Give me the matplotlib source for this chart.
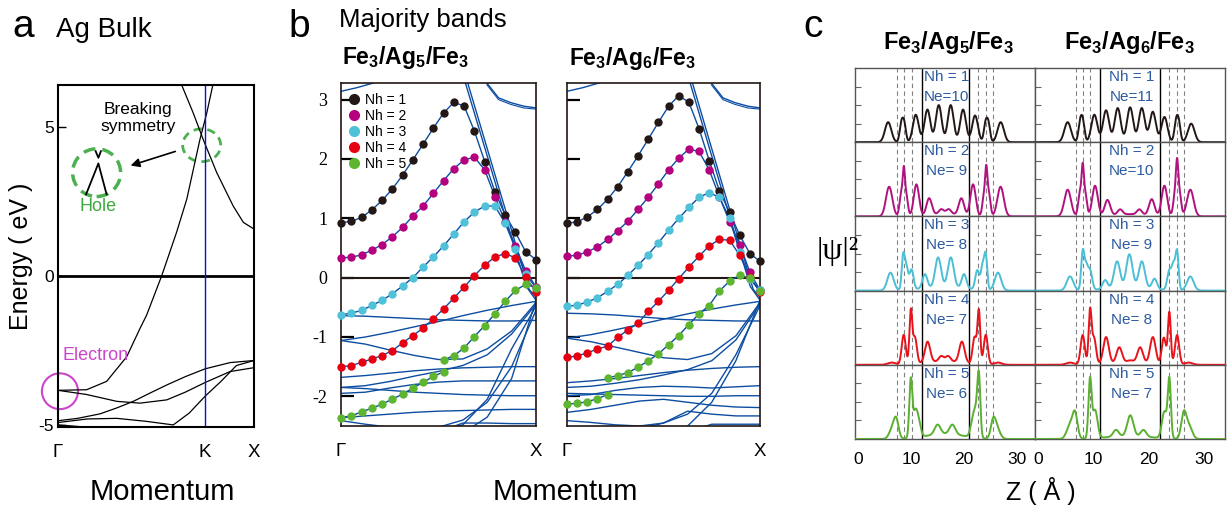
import numpy as np
import matplotlib.pyplot as plt
from matplotlib.patches import Ellipse
from matplotlib.lines import Line2D

plt.rcParams['font.family'] = ['Liberation Sans', 'DejaVu Sans']
plt.rcParams['axes.unicode_minus'] = False

# ---------------- data: panel a (Ag bulk) ----------------
a_labels = ['Γ', 'K', 'X']
a_label_pos = [0.0, 0.75, 1.0]
sp_up_k = [0, 0.146, 0.248, 0.35, 0.418, 0.452, 0.529, 0.605, 0.657, 0.724, 0.759, 0.79]
sp_up_e = [-3.84, -3.82, -3.54, -2.72, -1.77, -1.32, 0.0, 1.46, 2.57, 4.57, 5.46, 6.4]
sp_dn_k = [0.631, 0.69, 0.741, 0.81, 0.894, 0.946, 1.0]
sp_dn_e = [6.4, 5.46, 4.57, 3.46, 2.34, 1.79, 1.57]
d1_k = [0, 0.146, 0.30, 0.418, 0.555, 0.65, 0.75, 0.878, 1.0]
d1_e = [-3.84, -3.98, -4.21, -4.27, -4.16, -3.9, -3.58, -3.21, -3.08]
d2_k = [0, 0.1, 0.214, 0.3, 0.384, 0.47, 0.555, 0.65, 0.75, 0.878, 1.0]
d2_e = [-4.86, -4.78, -4.63, -4.43, -4.21, -3.93, -3.66, -3.38, -3.12, -2.91, -2.84]
d3_k = [0, 0.15, 0.3, 0.45, 0.588, 0.67, 0.75, 0.83, 0.91, 1.0]
d3_e = [-4.92, -4.8, -4.78, -4.88, -5.0, -4.6, -4.04, -3.55, -3.01, -2.84]
d4_k = [0, 0.1, 0.2]
d4_e = [-5.0, -5.05, -5.12]

# ---------------- data: panel b (majority bands) ----------------
nh_labels = ['Nh = 1', 'Nh = 2', 'Nh = 3', 'Nh = 4', 'Nh = 5']
idx20 = list(range(20))
ag5_black = [0.925, 0.948, 1.015, 1.14, 1.30, 1.495, 1.726, 1.985, 2.25, 2.52,
             2.775, 2.955, 2.89, 2.47, 1.957, 1.444, 1.055, 0.761, 0.434, 0.305]
ag5_mag = [0.333, 0.344, 0.384, 0.462, 0.558, 0.688, 0.846, 1.038, 1.207, 1.421,
           1.636, 1.839, 1.985, 2.03, 1.816, 1.365, 0.942, 0.53, 0.113, -0.158]
ag5_cyan = [-0.626, -0.598, -0.553, -0.468, -0.384, -0.271, -0.141, 0.0, 0.18, 0.35,
            0.536, 0.738, 0.942, 1.105, 1.207, 1.207, 0.914, 0.49, 0.056, -0.169]
ag5_red = [-1.50, -1.483, -1.427, -1.371, -1.314, -1.23, -1.10, -0.976, -0.852, -0.694,
           -0.525, -0.344, -0.158, 0.034, 0.209, 0.35, 0.406, 0.333, 0.011, -0.243]
ag5_green_idx = [0, 1, 2, 3, 4, 5, 6, 7, 8, 9, 10, 10, 11, 12, 13, 14, 15, 16, 17, 18, 19]
ag5_green = [-2.358, -2.33, -2.262, -2.2, -2.132, -2.047, -1.963, -1.861, -1.765, -1.664, -1.585,
             -1.387, -1.314, -1.184, -0.993, -0.807, -0.609, -0.40, -0.214, -0.113, -0.169]

ag6_black = [0.914, 0.942, 1.021, 1.151, 1.32, 1.534, 1.788, 2.053, 2.335, 2.617,
             2.888, 3.068, 2.955, 2.51, 1.974, 1.466, 1.10, 0.716, 0.406, 0.276]
ag6_mag = [0.361, 0.378, 0.434, 0.519, 0.643, 0.79, 0.953, 1.151, 1.354, 1.579,
           1.816, 2.014, 2.166, 2.126, 1.816, 1.365, 0.942, 0.558, 0.096, -0.214]
ag6_cyan = [-0.485, -0.462, -0.412, -0.338, -0.231, -0.113, 0.039, 0.209, 0.389, 0.587,
            0.80, 0.998, 1.184, 1.354, 1.433, 1.354, 1.0, 0.434, -0.017, -0.214]
ag6_red = [-1.342, -1.32, -1.269, -1.201, -1.156, -1.004, -0.88, -0.767, -0.57, -0.40,
           -0.214, -0.017, 0.18, 0.361, 0.536, 0.643, 0.632, 0.378, 0.011, -0.243]
ag6_green_idx = [0, 1, 2, 3, 4, 4, 5, 6, 7, 8, 9, 10, 11, 12, 13, 14, 15, 16, 17, 18, 19]
ag6_green = [-2.13, -2.12, -2.09, -2.04, -1.97, -1.69, -1.65, -1.60, -1.51, -1.40, -1.285,
             -1.13, -0.975, -0.79, -0.61, -0.47, -0.226, -0.06, 0.04, -0.01, -0.226]

# background bands on a coarse k grid
k9 = [0, 0.125, 0.25, 0.375, 0.5, 0.625, 0.75, 0.875, 1.0]
bands_ag5 = [
    [-0.64, -0.65, -0.67, -0.69, -0.71, -0.72, -0.73, -0.73, -0.72],
    [-1.06, -1.00, -0.92, -0.83, -0.74, -0.64, -0.55, -0.47, -0.40],
    [-1.06, -1.12, -1.22, -1.31, -1.38, -1.37, -1.20, -0.90, -0.42],
    [-1.68, -1.65, -1.61, -1.57, -1.54, -1.52, -1.51, -1.50, -1.50],
    [-1.85, -1.82, -1.75, -1.66, -1.58, -1.48, -1.30, -0.95, -0.45],
    [-1.85, -1.87, -1.90, -1.93, -1.95, -1.97, -1.98, -1.99, -1.99],
    [-1.95, -1.93, -1.86, -1.80, -1.76, -1.74, -1.74, -1.74, -1.74],
    [-2.36, -2.33, -2.30, -2.27, -2.25, -2.24, -2.23, -2.22, -2.22],
    [-2.41, -2.47, -2.52, -2.55, -2.52, -2.40, -2.10, -1.50, -0.55],
    [-2.60, -2.60, -2.60, -2.60, -2.58, -2.48, -2.05, -1.20, -0.48],
    [-2.65, -2.65, -2.65, -2.65, -2.65, -2.62, -2.35, -1.70, -0.38],
    [-2.65, -2.65, -2.65, -2.65, -2.60, -2.45, -2.45, -2.46, -2.46],
]
bands_ag6 = [
    [-0.60, -0.61, -0.63, -0.66, -0.69, -0.71, -0.72, -0.73, -0.73],
    [-1.02, -0.96, -0.88, -0.79, -0.70, -0.61, -0.53, -0.46, -0.40],
    [-1.02, -1.08, -1.17, -1.26, -1.35, -1.38, -1.28, -0.98, -0.42],
    [-1.77, -1.74, -1.70, -1.65, -1.60, -1.56, -1.53, -1.51, -1.50],
    [-1.85, -1.83, -1.78, -1.72, -1.64, -1.55, -1.40, -1.05, -0.44],
    [-1.99, -1.97, -1.90, -1.85, -1.83, -1.84, -1.86, -1.84, -1.82],
    [-1.95, -1.96, -1.97, -1.98, -1.99, -2.00, -2.00, -1.99, -1.99],
    [-2.27, -2.22, -2.15, -2.08, -2.05, -2.10, -2.15, -2.18, -2.19],
    [-2.41, -2.44, -2.48, -2.50, -2.45, -2.30, -1.95, -1.30, -0.47],
    [-2.60, -2.60, -2.60, -2.55, -2.45, -2.25, -2.30, -2.33, -2.33],
    [-2.65, -2.65, -2.65, -2.65, -2.62, -2.50, -2.10, -1.40, -0.38],
    [-2.65, -2.65, -2.65, -2.65, -2.65, -2.60, -2.47, -2.47, -2.47],
]
steep1_k = [0.638, 0.8, 0.95, 1.0]
steep1_e = [3.28, 1.50, -0.15, -0.38]
steep2_k = [0.65, 0.8, 0.965, 1.0]
steep2_e = [3.28, 1.62, -0.20, -0.33]
topr_k = [0.748, 0.808, 0.87, 0.936, 1.0]
topr_e = [3.28, 3.03, 2.95, 2.89, 2.86]
topl_k = [0.0, 0.08, 0.166]
topl_e = [3.14, 3.20, 3.28]

# ---------------- data: panel c (|psi|^2 peaks: centre, height, width) ----------------
ne_ag5 = [10, 9, 8, 7, 6]
ne_ag6 = [11, 10, 9, 8, 7]
solid_ag5 = [12.0, 20.9]
dashed_ag5 = [7.25, 8.6, 10.1, 22.6, 24.1, 25.5]
solid_ag6 = [11.2, 22.1]
dashed_ag6 = [6.85, 8.07, 9.4, 23.8, 25.2, 26.5]

pk5_1 = [(5.66, .27, .6), (8.15, .24, .32), (8.7, .24, .32), (10.88, .37, .55), (13.08, .44, .55),
         (15.22, .50, .55), (17.48, .50, .55), (19.81, .44, .55), (22.08, .36, .55),
         (24.05, .24, .32), (24.6, .24, .32), (26.92, .27, .6)]
pk5_2 = [(5.85, .40, .6), (8.15, .32, .32), (8.62, .45, .2), (9.05, .30, .32), (11.0, .43, .5),
         (13.4, .23, .5), (15.7, .06, .45), (17.1, .06, .45), (16.4, .04, 2.2), (19.5, .23, .5),
         (21.7, .43, .5), (23.8, .30, .32), (24.2, .44, .2), (24.65, .32, .32), (26.9, .40, .6)]
pk5_3 = [(6.1, .24, .6), (8.5, .45, .28), (9.1, .30, .32), (10.07, .27, .38), (12.6, .19, .45),
         (15.1, .40, .55), (17.5, .40, .55), (20.0, .19, .45), (16.3, .05, 4.0), (22.5, .26, .38),
         (23.5, .32, .32), (24.1, .45, .28), (26.4, .24, .6)]
pk5_4 = [(6.3, .03, .7), (8.6, .40, .38), (9.94, .70, .26), (10.7, .36, .38), (13.1, .28, .5),
         (15.7, .07, .45), (16.98, .07, .45), (16.4, .05, 3.5), (19.6, .28, .5), (22.0, .36, .38),
         (22.8, .70, .26), (24.1, .40, .38), (26.4, .03, .7)]
pk5_5 = [(6.5, .14, .6), (7.2, .22, .45), (9.94, .78, .28), (10.7, .26, .38), (11.3, .24, .45),
         (15.0, .13, .55), (17.8, .13, .55), (16.4, .07, 3.5), (21.7, .24, .45),
         (22.3, .26, .38), (22.8, .78, .28), (25.5, .22, .45), (26.2, .14, .6)]
pk6_1 = [(5.33, .27, .6), (7.6, .25, .32), (8.1, .25, .32), (10.18, .37, .55), (12.3, .43, .55),
         (14.42, .46, .55), (16.67, .47, .55), (18.79, .46, .55), (20.79, .41, .55),
         (22.91, .34, .55), (25.0, .25, .32), (25.5, .25, .32), (27.76, .25, .6)]
pk6_2 = [(5.33, .36, .6), (7.58, .33, .32), (8.06, .48, .2), (8.48, .32, .32), (10.3, .41, .5),
         (12.55, .21, .5), (14.85, .07, .45), (18.36, .07, .45), (16.6, .03, 3.0), (20.6, .22, .5),
         (22.9, .41, .5), (24.85, .32, .32), (25.2, .46, .2), (25.6, .33, .32), (27.6, .36, .6)]
pk6_3 = [(5.76, .19, .6), (8.06, .50, .28), (8.67, .30, .32), (9.4, .26, .38), (12.13, .12, .45),
         (14.3, .36, .55), (16.54, .45, .55), (18.8, .36, .55), (16.5, .04, 4.0), (21.1, .14, .45),
         (23.8, .26, .38), (24.56, .32, .32), (25.2, .50, .28), (27.6, .19, .6)]
pk6_4 = [(5.76, .03, .7), (8.06, .40, .38), (9.39, .70, .26), (10.1, .36, .38), (12.3, .36, .5),
         (14.7, .21, .5), (16.7, .03, .6), (18.5, .21, .5), (16.5, .03, 3.5), (20.8, .36, .5),
         (22.8, .36, .38), (23.8, .70, .26), (25.2, .40, .38), (27.3, .03, .7)]
pk6_5 = [(5.76, .18, .6), (6.67, .32, .45), (9.39, .78, .28), (10.3, .38, .45),
         (14.1, .09, .5), (16.7, .28, .55), (19.1, .09, .5), (16.5, .04, 4.0),
         (22.9, .36, .45), (23.8, .78, .28), (26.4, .32, .45), (27.3, .18, .6)]
peaks_ag5 = [pk5_1, pk5_2, pk5_3, pk5_4, pk5_5]
peaks_ag6 = [pk6_1, pk6_2, pk6_3, pk6_4, pk6_5]

# ---------------- styles ----------------
BLUE = '#0D4DA1'
DOT_COLORS = ['#231815', '#B5007F', '#4FC1D8', '#E60012', '#5DB530']
CURVE_COLORS = ['#231815', '#B0127F', '#4BBFD4', '#E8141C', '#5AB031']
LABEL_BLUE = '#2C5AA0'
GREEN = '#4DB050'
MAGENTA = '#CC44CC'

W, H = 1232, 508
fig = plt.figure(figsize=(W / 100, H / 100), dpi=100)


def box(l, t, r, b):
    return [l / W, 1 - b / H, (r - l) / W, (b - t) / H]


# ================= panel a =================
axa = fig.add_axes(box(58, 85, 254, 427))
for kk, ee in [(sp_up_k, sp_up_e), (sp_dn_k, sp_dn_e), (d1_k, d1_e), (d2_k, d2_e),
               (d3_k, d3_e), (d4_k, d4_e)]:
    axa.plot(kk, ee, color='k', lw=0.9)
axa.axhline(0, color='k', lw=2)
axa.axvline(a_label_pos[1], color='#1010CC', lw=1)
axa.set_xlim(0, 1)
axa.set_ylim(-5.07, 6.4)
axa.set_yticks([-5, 0, 5])
axa.set_xticks(a_label_pos, a_labels)
axa.tick_params(axis='y', direction='in', length=6, width=1, labelsize=12.5, pad=3)
axa.tick_params(axis='x', length=0, labelsize=13.5, pad=12)
for s in axa.spines.values():
    s.set_linewidth(1.5)
axa.add_patch(Ellipse((0.733, 4.38), 0.194, 1.1, fill=False, ec=GREEN, lw=2, ls=(0, (3, 2))))
axa.add_patch(Ellipse((0.197, 3.46), 0.245, 1.6, fill=False, ec=GREEN, lw=2.5, ls=(0, (3.5, 2))))
axa.plot([0.143, 0.206, 0.248], [2.73, 3.77, 2.73], color='k', lw=1.3)
axa.plot([0.192, 0.206, 0.219], [4.18, 3.96, 4.18], color='k', lw=1.3)
axa.annotate('', xy=(0.357, 3.67), xytext=(0.612, 4.2),
             arrowprops=dict(arrowstyle='-|>', color='k', lw=1.2, mutation_scale=13))
axa.text(0.41, 5.3, 'Breaking\nsymmetry', ha='center', va='center', fontsize=12.5, linespacing=1.15)
axa.text(0.204, 2.33, 'Hole', ha='center', va='center', fontsize=13, color='#3DAA3D')
axa.text(0.19, -2.68, 'Electron', ha='center', va='center', fontsize=13, color=MAGENTA)
axa.add_patch(Ellipse((0.01, -3.87), 0.184, 1.2, fill=False, ec=MAGENTA, lw=1.5, clip_on=False))
axa.set_ylabel('Energy ( eV )', fontsize=18, labelpad=4)
fig.text(12 / W, 1 - 37 / H, 'a', fontsize=28)
fig.text(56 / W, 1 - 37 / H, 'Ag Bulk', fontsize=20)
fig.text(162 / W, 1 - 500 / H, 'Momentum', fontsize=21, ha='center')


# ================= panel b =================
def band_panel(ax, bands, dot_sets):
    for row in bands:
        ax.plot(k9, row, color=BLUE, lw=1.0)
    for kk, ee in [(steep1_k, steep1_e), (steep2_k, steep2_e), (topl_k, topl_e)]:
        ax.plot(kk, ee, color=BLUE, lw=1.0)
    ax.plot(topr_k, topr_e, color=BLUE, lw=1.0)
    ax.plot(topr_k[:-1] + [1.0], [e - 0.03 for e in topr_e[:-1]] + [2.84], color=BLUE, lw=0.8)
    ax.axhline(0, color='#231815', lw=1.5, zorder=3)
    for (idx, ee), col in zip(dot_sets, DOT_COLORS):
        kk = np.array(idx) / 19.0
        ee = np.array(ee)
        cut = np.where(np.diff(kk) == 0)[0] + 1
        for segk, sege in zip(np.split(kk, cut), np.split(ee, cut)):
            ax.plot(segk, sege, color=BLUE, lw=1.0, zorder=4)
        ax.scatter(kk, ee, s=36, color=col, zorder=6, clip_on=False, linewidths=0)
    ax.set_xlim(0, 1)
    ax.set_ylim(-2.5, 3.28)
    ax.set_xticks([0, 1], ['Γ', 'X'])
    ax.tick_params(axis='x', length=0, labelsize=13.5, pad=12)
    ax.set_yticks([-2, -1, 0, 1, 2, 3])
    ax.tick_params(axis='y', direction='in', length=9, width=1.6, pad=10)
    for s in ax.spines.values():
        s.set_linewidth(1.2)
        s.set_color('#231815')


axb1 = fig.add_axes(box(341, 83, 536, 426))
band_panel(axb1, bands_ag5, [(idx20, ag5_black), (idx20, ag5_mag), (idx20, ag5_cyan),
                             (idx20, ag5_red), (ag5_green_idx, ag5_green)])
for lab in axb1.get_yticklabels():
    lab.set_family(['Liberation Serif', 'DejaVu Serif'])
    lab.set_fontsize(13)
handles = [Line2D([], [], marker='o', ls='', color=c, markersize=7) for c in DOT_COLORS]
axb1.legend(handles, nh_labels, loc='upper left', bbox_to_anchor=(0.04, 0.972), frameon=False,
            fontsize=10, handlelength=0.8, handletextpad=0.35, labelspacing=0.15,
            borderpad=0, borderaxespad=0)

axb2 = fig.add_axes(box(567, 83, 760, 426))
band_panel(axb2, bands_ag6, [(idx20, ag6_black), (idx20, ag6_mag), (idx20, ag6_cyan),
                             (idx20, ag6_red), (ag6_green_idx, ag6_green)])
axb2.set_yticklabels([])

title5 = r'Fe$_\mathregular{3}$/Ag$_\mathregular{5}$/Fe$_\mathregular{3}$'
title6 = r'Fe$_\mathregular{3}$/Ag$_\mathregular{6}$/Fe$_\mathregular{3}$'
fig.text(288 / W, 1 - 37 / H, 'b', fontsize=28)
fig.text(339 / W, 1 - 27 / H, 'Majority bands', fontsize=18.5)
fig.text(405 / W, 1 - 64 / H, title5, fontsize=16.5, fontweight='bold', ha='center')
fig.text(632 / W, 1 - 65 / H, title6, fontsize=16.5, fontweight='bold', ha='center')
fig.text(565 / W, 1 - 500 / H, 'Momentum', fontsize=21, ha='center')

# ================= panel c =================
z = np.linspace(-1, 35, 1500)
row_top, row_bot = 68, 439
row_h = (row_bot - row_top) / 5
cols = [(855, 1035, -0.6, 33.4, peaks_ag5, ne_ag5, solid_ag5, dashed_ag5),
        (1035, 1225, -0.6, 33.9, peaks_ag6, ne_ag6, solid_ag6, dashed_ag6)]
for (l, r, x0, x1, peaks, nes, solids, dashes) in cols:
    for i in range(5):
        t = row_top + i * row_h
        ax = fig.add_axes(box(l, t, r, t + row_h))
        y = np.zeros_like(z)
        for c0, h0, w0 in peaks[i]:
            y += h0 * np.exp(-(z - c0) ** 2 / (2 * w0 ** 2))
        ax.plot(z, y, color=CURVE_COLORS[i], lw=1.4, zorder=3)
        for xv in solids:
            ax.axvline(xv, color='k', lw=1.0, zorder=2)
        for xv in dashes:
            ax.axvline(xv, color='#808080', lw=0.8, ls=(0, (4, 3)), zorder=2)
        ax.set_xlim(x0, x1)
        ax.set_ylim(0, 1)
        ax.set_yticks([0.25, 0.5, 0.75])
        ax.tick_params(axis='y', direction='in', length=4, color='#666', labelleft=False)
        ax.set_xticks([0, 10, 20, 30])
        ax.tick_params(axis='x', length=0, labelsize=12.5, pad=9)
        if i < 4:
            ax.set_xticklabels([])
        for s in ax.spines.values():
            s.set_color('#555')
            s.set_linewidth(1.0)
        ax.text(0.51, 0.88, nh_labels[i], transform=ax.transAxes, ha='center', va='center',
                fontsize=11, color=LABEL_BLUE, zorder=5)
        ax.text(0.51, 0.61, 'Ne=%2d' % nes[i], transform=ax.transAxes, ha='center', va='center',
                fontsize=11, color=LABEL_BLUE, zorder=5)

fig.text(803 / W, 1 - 37 / H, 'c', fontsize=28)
fig.text(948 / W, 1 - 49 / H, title5, fontsize=17, fontweight='bold', ha='center')
fig.text(1129 / W, 1 - 49 / H, title6, fontsize=17, fontweight='bold', ha='center')
fig.text(838 / W, 1 - 252 / H, '|ψ|²', fontsize=23, ha='center', va='center',
         family=['Liberation Serif', 'DejaVu Serif'])
fig.text(1041 / W, 1 - 500 / H, 'Z ( Å )', fontsize=18, ha='center')

fig.savefig('out.png', dpi=100)
